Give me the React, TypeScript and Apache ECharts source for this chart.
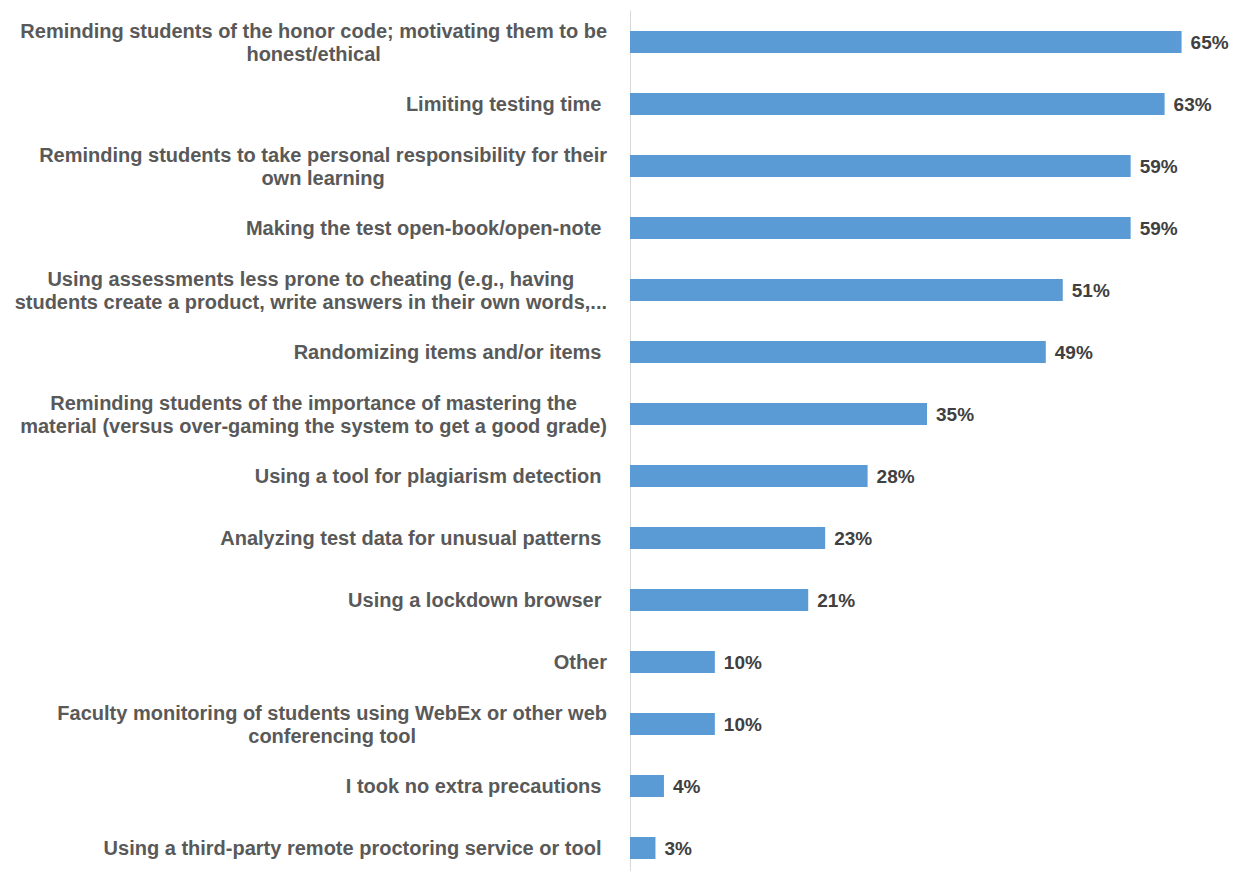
import React, { useEffect, useRef } from "react";
import * as echarts from "echarts";

const categories: string[] = [
  "Reminding students of the honor code; motivating them to be\nhonest/ethical",
  "Limiting testing time ",
  "Reminding students to take personal responsibility for their\nown learning",
  "Making the test open-book/open-note ",
  "Using assessments less prone to cheating (e.g., having\nstudents create a product, write answers in their own words,...",
  "Randomizing items and/or items ",
  "Reminding students of the importance of mastering the\nmaterial (versus over-gaming the system to get a good grade)",
  "Using a tool for plagiarism detection ",
  "Analyzing test data for unusual patterns ",
  "Using a lockdown browser ",
  "Other",
  "Faculty monitoring of students using WebEx or other web\nconferencing tool",
  "I took no extra precautions ",
  "Using a third-party remote proctoring service or tool ",
];

const values: number[] = [65, 63, 59, 59, 51, 49, 35, 28, 23, 21, 10, 10, 4, 3];

const FONT = "'Liberation Sans', Arial, sans-serif";

export default function App() {
  const ref = useRef<HTMLDivElement>(null);
  useEffect(() => {
    document.body.style.margin = "0";
    document.body.style.overflow = "hidden";
    const chart = echarts.init(ref.current!, undefined, { renderer: "svg" });
    chart.setOption({
      animation: false,
      backgroundColor: "#ffffff",
      grid: { left: 630, right: 12, top: 11, height: 868, containLabel: false },
      xAxis: {
        type: "value",
        min: 0,
        max: 70,
        show: false,
      },
      yAxis: {
        type: "category",
        data: categories,
        inverse: true,
        axisLine: { show: true, lineStyle: { color: "#d9d9d9", width: 1 } },
        axisTick: { show: false },
        axisLabel: {
          margin: 23,
          fontFamily: FONT,
          fontWeight: "bold",
          fontSize: 20,
          lineHeight: 23,
          color: "#595959",
          formatter: (v: string) =>
            v
              .split("\n")
              .map((l) => "{c|" + l + "}")
              .join("\n"),
          rich: {
            c: {
              align: "center",
              fontFamily: FONT,
              fontWeight: "bold",
              fontSize: 20,
              lineHeight: 23,
              color: "#595959",
            },
          },
        },
      },
      series: [
        {
          type: "bar",
          data: values,
          barWidth: 22,
          itemStyle: { color: "#5b9bd5" },
          label: {
            show: true,
            position: "right",
            distance: 9,
            formatter: "{c}%",
            fontFamily: FONT,
            fontWeight: "bold",
            fontSize: 19,
            color: "#404040",
          },
        },
      ],
    });
    return () => chart.dispose();
  }, []);
  return <div ref={ref} style={{ width: 1236, height: 900 }} />;
}
